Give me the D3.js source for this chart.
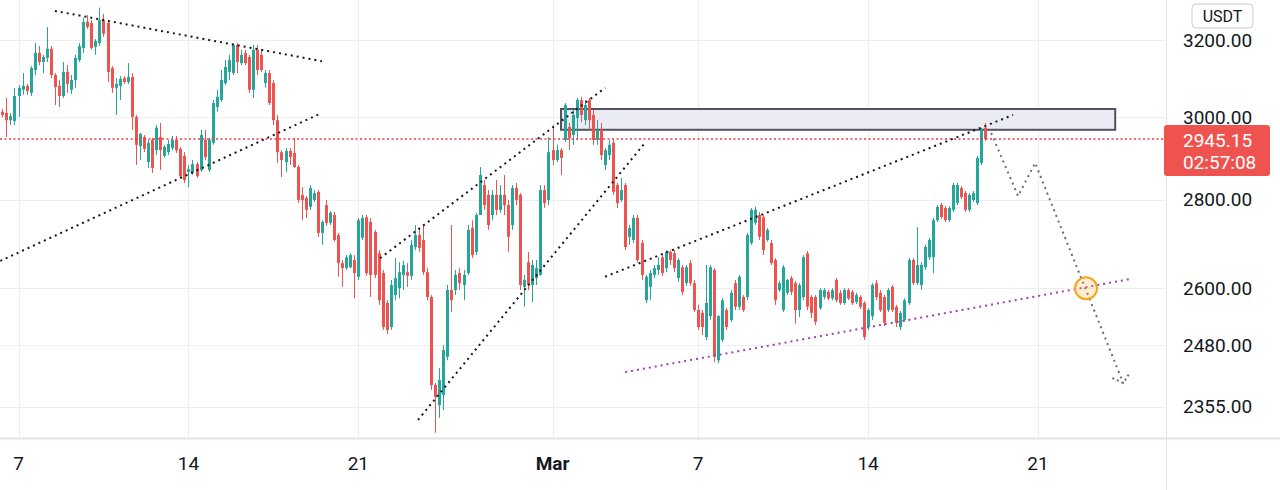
<!DOCTYPE html>
<html><head><meta charset="utf-8">
<script src="https://cdn.jsdelivr.net/npm/d3@7"></script>
<style>html,body{margin:0;padding:0;background:#fff;}svg{display:block;font-family:Roboto,"Noto Sans",sans-serif;}</style>
</head><body>
<svg id="chart" width="1280" height="490"></svg>
<script>
// ---- data (ETH/USDT, 4h candles) ----
const firstCandle = "2022-02-06T08:00:00Z";
const candleHours = 4;
const opens = [3013,3010,2992,2990,3053,3069,3079,3061,3120,3165,
3141,3152,3176,3107,3079,3053,3115,3069,3094,3146,
3178,3248,3245,3181,3191,3253,3245,3125,3074,3079,
3099,3089,3102,3000,2928,2950,2889,2943,2918,2950,
2904,2913,2923,2943,2921,2904,2865,2863,2884,2870,
2943,2870,2936,3025,3043,3086,3115,3112,3186,3138,
3165,3154,3069,3173,3160,3086,3112,3086,2992,2913,
2889,2916,2911,2877,2811,2804,2783,2799,2818,2723,
2787,2746,2764,2718,2655,2644,2646,2662,2625,2712,
2759,2748,2725,2677,2633,2568,2517,2585,2600,2629,
2635,2627,2691,2718,2707,2635,2581,2398,2358,2378,
2455,2596,2596,2633,2607,2633,2734,2680,2764,2834,
2811,2764,2811,2776,2811,2787,2741,2827,2811,2603,
2657,2607,2622,2629,2822,2799,2918,2894,2918,2943,
2975,2955,2997,3043,2992,3043,3005,2943,2968,2882,
2906,2936,2834,2799,2834,2714,2707,2757,2700,2574,
2603,2629,2640,2668,2644,2680,2677,2622,2646,2611,
2655,2611,2553,2547,2496,2540,2640,2448,2490,2553,
2532,2611,2560,2581,2581,2700,2746,2764,2759,2707,
2700,2662,2596,2553,2590,2622,2611,2553,2581,2677,
2581,2581,2557,2581,2592,2578,2618,2590,2568,2596,
2592,2570,2581,2568,2517,2540,2611,2590,2581,2553,
2603,2560,2517,2532,2568,2662,2611,2607,2646,2668,
2668,2752,2787,2780,2752,2776,2792,2827,2815,2776,
2799,2792,2887,2973];
const highs = [3020,3048,3010,3074,3081,3112,3084,3130,3191,3183,
3160,3234,3183,3112,3094,3141,3133,3107,3160,3191,
3259,3267,3253,3202,3287,3270,3253,3130,3099,3104,
3104,3138,3112,3005,2960,2955,2943,2948,2980,2985,
2931,2943,2953,2953,2926,2913,2882,2894,2889,2968,
2968,2948,3043,3069,3120,3146,3160,3191,3191,3173,
3173,3160,3186,3186,3173,3120,3120,3094,3005,2918,
2923,2923,2948,2882,2829,2808,2834,2822,2822,2752,
2799,2773,2771,2723,2662,2673,2677,2673,2757,2764,
2764,2757,2730,2684,2640,2574,2618,2666,2657,2660,
2655,2707,2741,2734,2741,2644,2585,2402,2432,2479,
2607,2741,2640,2644,2640,2741,2752,2769,2877,2846,
2822,2822,2846,2834,2858,2799,2834,2839,2815,2629,
2680,2662,2662,2834,2834,2950,2980,2931,2923,3035,
2985,3018,3048,3051,3043,3048,3018,2992,2985,2923,
2943,2943,2839,2851,2839,2741,2764,2764,2707,2629,
2640,2651,2668,2673,2684,2684,2684,2666,2651,2651,
2662,2618,2564,2553,2651,2651,2644,2542,2578,2557,
2596,2618,2629,2585,2723,2780,2783,2771,2764,2734,
2707,2666,2616,2651,2620,2627,2616,2611,2673,2682,
2585,2585,2600,2600,2596,2600,2622,2596,2600,2600,
2596,2590,2585,2572,2557,2611,2618,2596,2585,2600,
2607,2564,2551,2578,2666,2666,2736,2657,2696,2712,
2757,2787,2792,2785,2785,2839,2839,2832,2820,2815,
2820,2904,2973,2985];
const lows = [3000,2950,2980,2980,3000,3056,3056,3053,3107,3133,
3112,3141,3099,3030,3025,3048,3061,3058,3074,3141,
3165,3229,3173,3160,3183,3208,3089,3061,3005,3043,
3084,3084,2968,2882,2894,2913,2875,2863,2906,2870,
2899,2906,2918,2911,2851,2839,2829,2858,2851,2865,
2894,2865,2931,3013,3038,3081,3094,3107,3112,3133,
3133,3061,3048,3107,3115,3074,3030,2980,2887,2853,
2865,2882,2875,2792,2752,2757,2776,2794,2714,2696,
2739,2741,2703,2625,2603,2640,2644,2578,2618,2707,
2627,2581,2622,2564,2511,2502,2511,2574,2578,2596,
2603,2618,2684,2680,2629,2574,2388,2304,2333,2348,
2448,2549,2585,2596,2574,2629,2666,2673,2764,2776,
2730,2752,2764,2769,2764,2680,2730,2787,2596,2560,
2596,2570,2607,2627,2780,2787,2882,2889,2858,2938,
2918,2931,2943,2987,2980,2968,2931,2931,2894,2870,
2894,2811,2780,2794,2684,2696,2700,2657,2618,2568,
2574,2622,2629,2627,2635,2651,2635,2614,2585,2605,
2605,2549,2511,2500,2490,2532,2444,2442,2486,2511,
2528,2553,2553,2549,2574,2696,2741,2707,2673,2703,
2651,2564,2592,2549,2585,2585,2524,2538,2574,2553,
2536,2521,2553,2576,2574,2574,2570,2564,2564,2574,
2564,2566,2555,2490,2511,2532,2574,2549,2519,2549,
2549,2517,2511,2528,2564,2607,2607,2596,2640,2662,
2633,2748,2755,2748,2748,2771,2787,2801,2771,2771,
2794,2787,2882,2940];
const closes = [3005,2992,3002,3053,3074,3079,3066,3125,3165,3141,
3154,3176,3107,3076,3053,3115,3084,3094,3152,3183,
3248,3234,3178,3197,3253,3216,3115,3074,3084,3097,
3089,3102,3000,2931,2958,2921,2936,2875,2973,2918,
2926,2933,2943,2918,2855,2846,2872,2884,2855,2955,
2901,2943,3035,3051,3094,3128,3146,3186,3141,3160,
3138,3069,3173,3120,3120,3112,3035,2992,2913,2894,
2916,2901,2877,2799,2799,2776,2827,2815,2723,2748,
2746,2769,2707,2655,2644,2668,2673,2633,2752,2757,
2633,2629,2629,2574,2517,2511,2607,2622,2635,2651,
2627,2696,2718,2689,2635,2581,2398,2374,2408,2469,
2596,2574,2629,2611,2629,2730,2673,2764,2858,2787,
2741,2811,2776,2811,2787,2714,2827,2799,2607,2618,
2607,2651,2644,2822,2792,2913,2894,2918,2899,3030,
2948,3005,3043,3005,3030,2992,2943,2968,2906,2918,
2931,2818,2792,2822,2691,2734,2757,2662,2629,2625,
2633,2644,2651,2633,2680,2662,2644,2662,2592,2646,
2611,2553,2517,2517,2568,2646,2455,2540,2574,2517,
2590,2560,2625,2553,2718,2776,2776,2714,2684,2730,
2655,2574,2611,2646,2618,2592,2553,2607,2668,2560,
2547,2528,2596,2596,2578,2596,2574,2568,2596,2578,
2568,2585,2560,2496,2553,2607,2581,2553,2526,2596,
2553,2526,2547,2574,2662,2611,2651,2651,2691,2707,
2752,2783,2759,2752,2780,2834,2834,2806,2776,2811,
2815,2899,2968,2945.15];

const priceTicks = [2355, 2480, 2600, 2800, 3000, 3200];
const dateTicks = ["2022-02-07","2022-02-14","2022-02-21","2022-03-01","2022-03-07","2022-03-14","2022-03-21"];
const dateLabels = ["7","14","21","Mar","7","14","21"];
const countdown = "02:57:08";
const currency = "USDT";

// drawings (time, price)
const blackLines = [
  [["2022-02-08T12:00Z",3278],["2022-02-19T12:00Z",3143]],
  [["2022-02-06T06:00Z",2660],["2022-02-19T10:00Z",3008]],
  [["2022-02-21T21:30Z",2666],["2022-03-03T04:00Z",3074]],
  [["2022-02-23T11:00Z",2329],["2022-03-04T19:30Z",2936]],
  [["2022-03-03T04:00Z",2625],["2022-03-19T23:20Z",3005]]
];
const purpleLine = [["2022-03-03T23:50Z",2424],["2022-03-24T19:10Z",2620]];
const projection = [["2022-03-19T01:40Z",2960],["2022-03-20T04:20Z",2808],["2022-03-20T21:10Z",2887],["2022-03-24T12:15Z",2402]];
const arrowHead = [["2022-03-24T01:30Z",2412],["2022-03-24T12:15Z",2402],["2022-03-24T19:10Z",2424]];
const targetPoint = ["2022-03-22T23:30Z",2600];
const zone = [["2022-03-01T08:24Z",3020],["2022-03-24T04:20Z",2968]];

// ---- layout ----
const W = 1280, H = 490, plotR = 1166, plotB = 438;
const svg = d3.select("#chart");
const x = d3.scaleUtc().domain([new Date("2022-02-07T00:00Z"), new Date("2022-03-21T00:00Z")]).range([18.5, 1038]);
const y = d3.scaleLog().domain([2296, 3308]).range([437, 0]);
const P = d => [x(new Date(d[0])), y(d[1])];

const t0 = new Date(firstCandle).getTime();
const candles = closes.map((c, i) => ({
  t: new Date(t0 + i * candleHours * 3600e3), o: opens[i], h: highs[i], l: lows[i], c
}));

svg.append("rect").attr("width", W).attr("height", H).attr("fill", "#fff");
svg.append("defs").append("clipPath").attr("id", "plot")
  .append("rect").attr("x", 0).attr("y", 0).attr("width", plotR).attr("height", plotB);

// grid
const grid = svg.append("g").attr("clip-path", "url(#plot)");
grid.selectAll("line.h").data(priceTicks).join("line")
  .attr("x1", 0).attr("x2", plotR).attr("y1", d => Math.round(y(d)) + 0.5).attr("y2", d => Math.round(y(d)) + 0.5)
  .attr("stroke", "#eceef2").attr("stroke-width", 1);
grid.selectAll("line.v").data(dateTicks).join("line")
  .attr("y1", 0).attr("y2", plotB).attr("x1", d => Math.round(x(new Date(d + "T00:00Z"))) + 0.5).attr("x2", d => Math.round(x(new Date(d + "T00:00Z"))) + 0.5)
  .attr("stroke", "#eceef2").attr("stroke-width", 1);

const plot = svg.append("g").attr("clip-path", "url(#plot)");

// zone rectangle
const z0 = P(zone[0]), z1 = P(zone[1]);
plot.append("rect").attr("x", z0[0]).attr("y", z0[1]).attr("width", z1[0] - z0[0]).attr("height", z1[1] - z0[1])
  .attr("fill", "#ebebf3").attr("stroke", "#50535e").attr("stroke-width", 2);

// candles
const up = "#26a69a", down = "#ef5350";
const cg = plot.append("g");
cg.selectAll("line").data(candles).join("line")
  .attr("x1", d => Math.round(x(d.t)) + 0.5).attr("x2", d => Math.round(x(d.t)) + 0.5)
  .attr("y1", d => y(d.h)).attr("y2", d => y(d.l))
  .attr("stroke", d => d.c >= d.o ? up : down).attr("stroke-width", 1);
cg.selectAll("rect").data(candles).join("rect")
  .attr("x", d => Math.round(x(d.t)) - 1).attr("width", 3)
  .attr("y", d => y(Math.max(d.o, d.c))).attr("height", d => Math.max(1, Math.abs(y(d.o) - y(d.c))))
  .attr("fill", d => d.c >= d.o ? up : down);

// current price line
const last = closes[closes.length - 1];
plot.append("line").attr("x1", 0).attr("x2", plotR).attr("y1", y(last)).attr("y2", y(last))
  .attr("stroke", "#f23645").attr("stroke-width", 1.5).attr("stroke-dasharray", "2 2.5");

// trend lines
const line = d3.line().x(d => P(d)[0]).y(d => P(d)[1]);
plot.selectAll("path.bl").data(blackLines).join("path")
  .attr("d", line).attr("fill", "none").attr("stroke", "#131722").attr("stroke-width", 2).attr("stroke-dasharray", "2 4");
plot.append("path").attr("d", line(purpleLine)).attr("fill", "none")
  .attr("stroke", "#a23fb5").attr("stroke-width", 2).attr("stroke-dasharray", "2 4");
plot.append("path").attr("d", line(projection)).attr("fill", "none")
  .attr("stroke", "#6a6d78").attr("stroke-width", 2).attr("stroke-dasharray", "2 4");
plot.append("path").attr("d", line(arrowHead)).attr("fill", "none")
  .attr("stroke", "#6a6d78").attr("stroke-width", 2).attr("stroke-dasharray", "2 3");
const tp = P(targetPoint);
plot.append("circle").attr("cx", tp[0]).attr("cy", tp[1]).attr("r", 11)
  .attr("fill", "rgba(255,183,77,0.25)").attr("stroke", "#f5a623").attr("stroke-width", 2);

// axes frame
svg.append("line").attr("x1", plotR + 0.5).attr("x2", plotR + 0.5).attr("y1", 0).attr("y2", H).attr("stroke", "#e0e3eb");
svg.append("line").attr("x1", 0).attr("x2", W).attr("y1", plotB + 0.5).attr("y2", plotB + 0.5).attr("stroke", "#e0e3eb").attr("stroke-width", 2);

// price axis labels
svg.append("g").selectAll("text").data(priceTicks).join("text")
  .attr("x", 1183).attr("y", d => y(d)).attr("dy", "0.36em")
  .attr("font-size", 19).attr("fill", "#131722").text(d => d3.format(".2f")(d));

// time axis labels
svg.append("g").selectAll("text").data(dateTicks).join("text")
  .attr("x", d => x(new Date(d + "T00:00Z"))).attr("y", 463).attr("dy", "0.36em").attr("text-anchor", "middle")
  .attr("font-size", 19).attr("fill", "#131722").attr("font-weight", (d, i) => dateLabels[i] === "Mar" ? 700 : 400)
  .text((d, i) => dateLabels[i]);

// last price label
const ly = y(last);
svg.append("rect").attr("x", 1164).attr("y", ly - 14).attr("width", 106).attr("height", 51).attr("rx", 3).attr("fill", "#ef5350");
svg.append("text").attr("x", 1183).attr("y", ly + 1).attr("dy", "0.36em").attr("font-size", 19).attr("fill", "#fff").text(d3.format(".2f")(last));
svg.append("text").attr("x", 1183).attr("y", ly + 23).attr("dy", "0.36em").attr("font-size", 19).attr("fill", "#fff").text(countdown);

// currency badge
svg.append("rect").attr("x", 1192).attr("y", 4).attr("width", 61).attr("height", 24).attr("rx", 4)
  .attr("fill", "#fff").attr("stroke", "#c9ccd4");
svg.append("text").attr("x", 1222.5).attr("y", 16).attr("dy", "0.36em").attr("text-anchor", "middle")
  .attr("font-size", 16).attr("fill", "#131722").text(currency);
</script>
</body></html>
